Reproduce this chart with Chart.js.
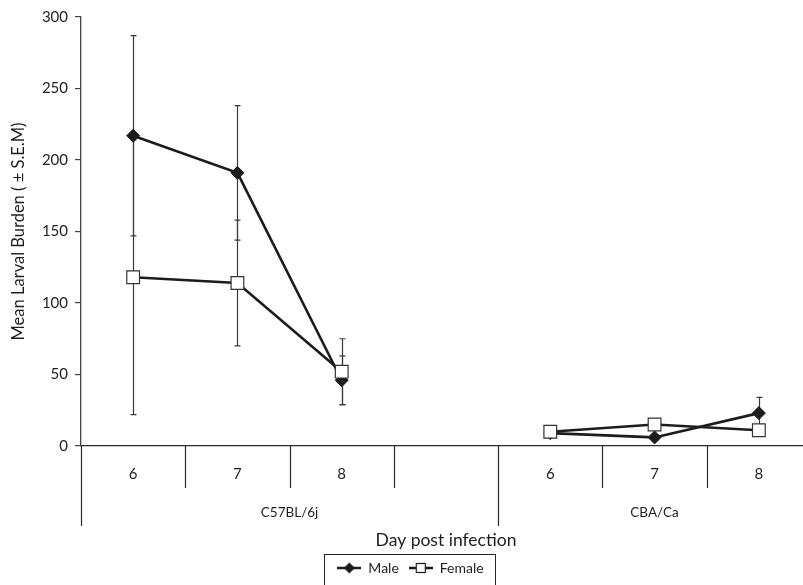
<!DOCTYPE html>
<html>
<head>
<meta charset="utf-8">
<script src="https://cdn.jsdelivr.net/npm/chart.js@4"></script>
<style>
  html, body { margin: 0; padding: 0; background: #fff; overflow: hidden; }
  #wrap { width: 803px; height: 585px; overflow: hidden; }
</style>
</head>
<body>
<div id="wrap"><canvas id="c" width="811" height="585"></canvas></div>
<script>
// ---- data ----
const days = ['6', '7', '8', '', '6', '7', '8'];
const groupLabels = ['C57BL/6j', 'CBA/Ca'];
const groupSpans = [4, 3];
const maleValues = [217, 191, 46, null, 9, 6, 23];
const maleSEM = [70, 47, 17, null, 3, 2, 11];
const femaleValues = [118, 114, 52, null, 10, 15, 11];
const femaleSEM = [96, 44, 23, null, 3, 2, 3];
const yTicks = [0, 50, 100, 150, 200, 250, 300];

const FONT = 'Lato, "Open Sans", sans-serif';
const LINE = '#1c1c1c';
const TEXT = '#1e1e1e';

function makeIcon(kind) {
  const c = document.createElement('canvas');
  c.width = 24; c.height = 14;
  const g = c.getContext('2d');
  g.strokeStyle = LINE; g.lineWidth = 2.5;
  g.beginPath(); g.moveTo(0, 7); g.lineTo(24, 7); g.stroke();
  if (kind === 'diamond') {
    g.fillStyle = LINE;
    g.beginPath(); g.moveTo(12, 1.5); g.lineTo(17.5, 7); g.lineTo(12, 12.5); g.lineTo(6.5, 7); g.closePath(); g.fill();
  } else {
    g.fillStyle = '#fff'; g.lineWidth = 1.2;
    g.fillRect(7, 2, 10, 10); g.strokeRect(7.5, 2.5, 9, 9);
  }
  return c;
}
const icons = [makeIcon('diamond'), makeIcon('square')];

const errorBars = [maleSEM, femaleSEM];

const decorPlugin = {
  id: 'decor',
  afterLayout(chart) {
    if (chart.legend) { chart.legend.left += 5; chart.legend.right += 5; }
  },
  beforeDatasetsDraw(chart) {
    const ctx = chart.ctx, xs = chart.scales.x, ys = chart.scales.y;
    ctx.save();
    ctx.strokeStyle = '#3a3a3a';
    ctx.lineWidth = 1.2;
    chart.data.datasets.forEach((ds, di) => {
      const sem = errorBars[di];
      ds.data.forEach((v, i) => {
        if (v == null || sem[i] == null) return;
        const x = Math.round(xs.getPixelForValue(i)) + 0.5;
        const yTop = ys.getPixelForValue(v + sem[i]);
        const yBot = ys.getPixelForValue(Math.max(0, v - sem[i]));
        ctx.beginPath();
        ctx.moveTo(x, yTop); ctx.lineTo(x, yBot);
        ctx.moveTo(x - 3, yTop); ctx.lineTo(x + 3, yTop);
        ctx.moveTo(x - 3, yBot); ctx.lineTo(x + 3, yBot);
        ctx.stroke();
      });
    });
    ctx.restore();
  },
  afterDraw(chart) {
    const ctx = chart.ctx, xs = chart.scales.x, area = chart.chartArea;
    const half = (xs.getPixelForTick(1) - xs.getPixelForTick(0)) / 2;
    const start = xs.getPixelForTick(0) - half;
    const y0 = area.bottom;
    const groupBounds = [0];
    groupSpans.forEach(s => groupBounds.push(groupBounds[groupBounds.length - 1] + s));
    ctx.save();
    ctx.strokeStyle = '#2a2a2a';
    ctx.lineWidth = 1.2;
    for (let k = 0; k <= days.length; k++) {
      const x = Math.round(start + k * 2 * half) + 0.5;
      const long = groupBounds.includes(k);
      ctx.beginPath();
      ctx.moveTo(x, y0);
      ctx.lineTo(x, long ? y0 + 80 : y0 + 42);
      ctx.stroke();
    }
    ctx.fillStyle = TEXT;
    ctx.font = '13.5px ' + FONT;
    ctx.textAlign = 'center';
    ctx.textBaseline = 'middle';
    groupLabels.forEach((lab, gi) => {
      const a = start + groupBounds[gi] * 2 * half;
      const b = start + groupBounds[gi + 1] * 2 * half;
      ctx.fillText(lab, (a + b) / 2, y0 + 67);
    });
    const lg = chart.legend;
    if (lg && lg.legendHitBoxes && lg.legendHitBoxes.length) {
      const hb = lg.legendHitBoxes;
      const l = Math.min(...hb.map(h => h.left)) - 13;
      const r = Math.max(...hb.map(h => h.left + h.width)) + 12;
      const t = Math.min(...hb.map(h => h.top)) - 7;
      ctx.strokeStyle = '#222';
      ctx.lineWidth = 1;
      ctx.strokeRect(Math.round(l) + 0.5, Math.round(t) + 0.5, Math.round(r - l), 60);
    }
    ctx.restore();
  }
};

new Chart(document.getElementById('c'), {
  type: 'line',
  data: {
    labels: days,
    datasets: [
      {
        label: 'Male',
        data: maleValues,
        borderColor: LINE,
        backgroundColor: LINE,
        borderWidth: 2.6,
        pointStyle: 'rectRot',
        pointRadius: 6.5,
        pointHoverRadius: 6.5,
        pointBackgroundColor: LINE,
        pointBorderColor: LINE,
        pointBorderWidth: 1,
        tension: 0,
        spanGaps: false,
        order: 1
      },
      {
        label: 'Female',
        data: femaleValues,
        borderColor: LINE,
        backgroundColor: '#fff',
        borderWidth: 2.6,
        pointStyle: 'rect',
        pointRadius: 9,
        pointHoverRadius: 9,
        pointBackgroundColor: '#fff',
        pointBorderColor: '#333',
        pointBorderWidth: 1.2,
        tension: 0,
        spanGaps: false,
        order: 0
      }
    ]
  },
  options: {
    responsive: false,
    animation: false,
    layout: { autoPadding: false, padding: { top: 17, left: 0, right: 0, bottom: 0 } },
    plugins: {
      tooltip: { enabled: false },
      legend: {
        position: 'bottom',
        labels: {
          font: { family: FONT, size: 14 },
          color: TEXT,
          padding: 10,
          usePointStyle: true,
          pointStyleWidth: 24,
          generateLabels: (chart) => chart.data.datasets.map((ds, i) => ({
            text: ds.label,
            pointStyle: icons[i],
            fillStyle: ds.backgroundColor,
            strokeStyle: ds.borderColor,
            lineWidth: 0,
            hidden: false,
            datasetIndex: i,
            fontColor: TEXT
          }))
        }
      }
    },
    scales: {
      x: {
        type: 'category',
        offset: true,
        afterFit: (s) => { s.paddingLeft = 0; s.paddingRight = 0; },
        grid: { drawOnChartArea: false, drawTicks: false },
        border: { display: true, color: '#2a2a2a', width: 1.3 },
        ticks: { font: { family: FONT, size: 15 }, color: TEXT, padding: 19, maxRotation: 0, autoSkip: false },
        title: {
          display: true,
          text: 'Day post infection',
          font: { family: FONT, size: 17.5 },
          color: TEXT,
          padding: { top: 28, bottom: 0 }
        }
      },
      y: {
        min: 0,
        max: 300,
        afterBuildTicks: (s) => { s.ticks = yTicks.map(v => ({ value: v })); },
        afterFit: (s) => { s.width = 81; },
        grid: { drawOnChartArea: false, drawTicks: true, tickLength: 6, color: '#444', lineWidth: 1.2 },
        border: { display: true, color: '#444', width: 1.3 },
        ticks: { font: { family: FONT, size: 15 }, color: TEXT, padding: 7 },
        title: {
          display: true,
          text: 'Mean Larval Burden ( ± S.E.M)',
          font: { family: FONT, size: 16.5 },
          color: TEXT,
          padding: { top: 9, bottom: 0 }
        }
      }
    }
  },
  plugins: [decorPlugin]
});
</script>
</body>
</html>
